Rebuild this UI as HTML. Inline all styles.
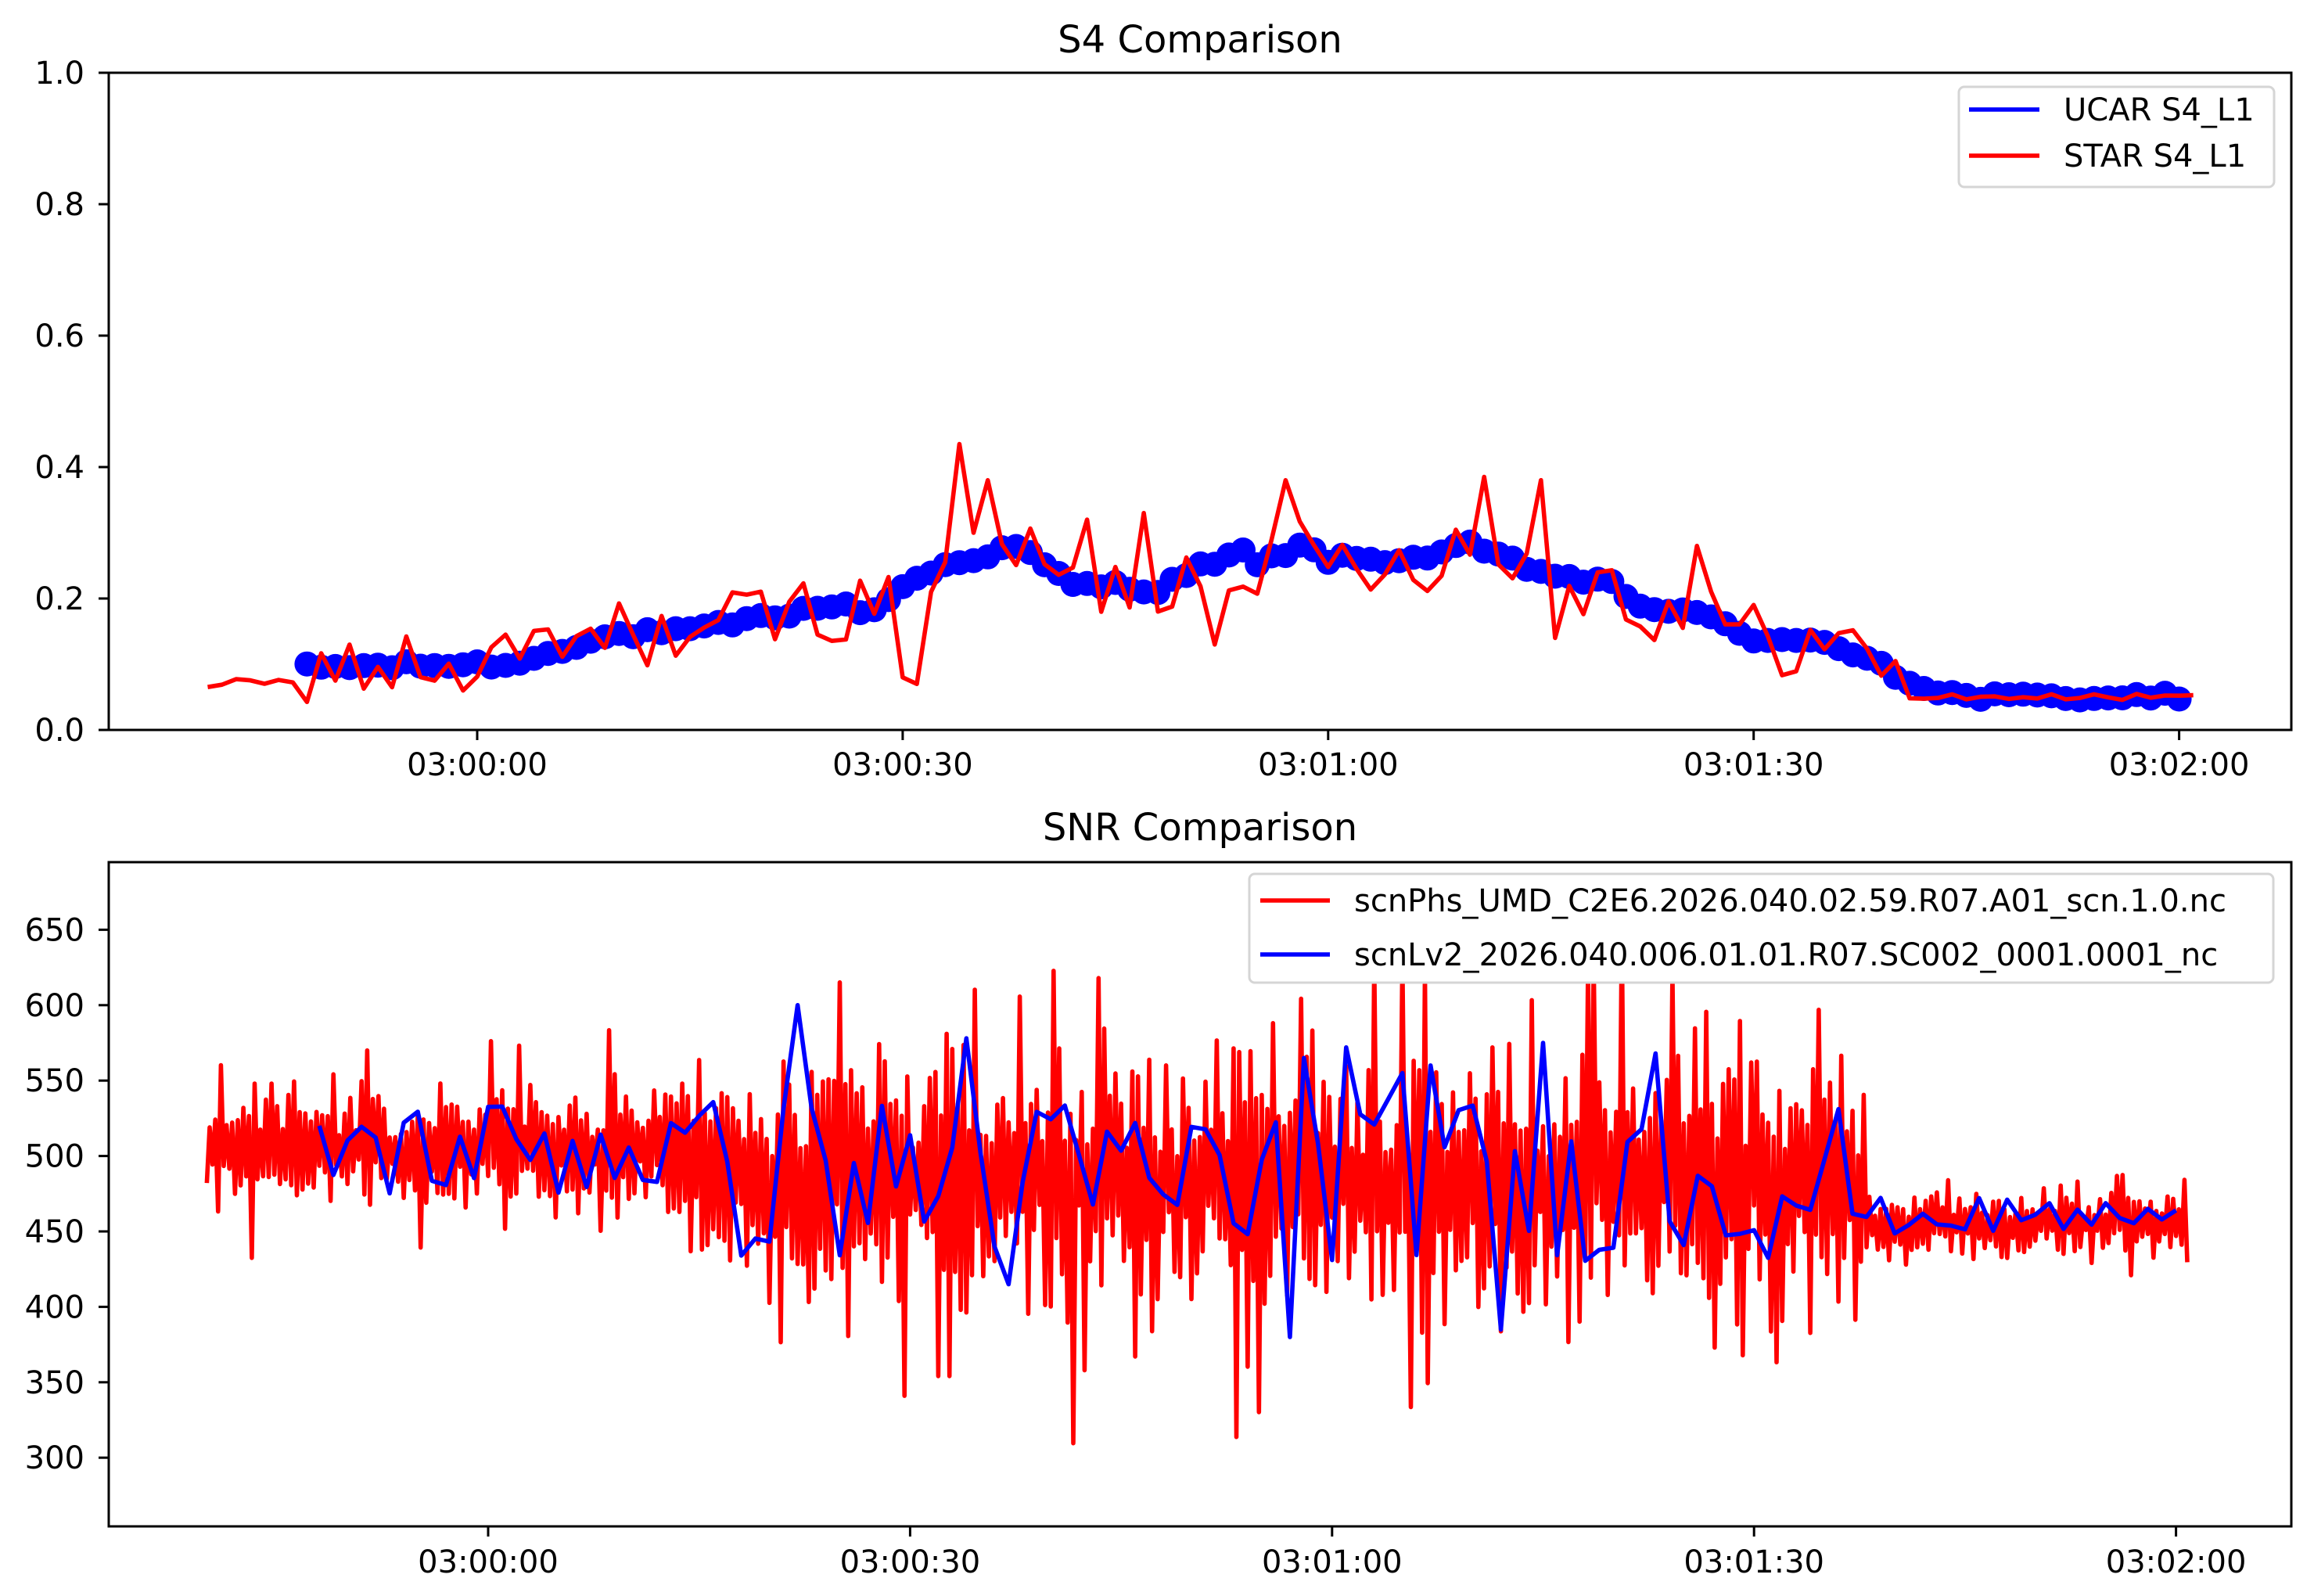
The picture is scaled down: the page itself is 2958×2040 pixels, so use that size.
<!DOCTYPE html>
<html><head><meta charset="utf-8"><style>
html,body{margin:0;padding:0;background:#fff}
svg{display:block}
text{font-family:"DejaVu Sans","Liberation Sans",sans-serif;fill:#000}
</style></head><body>
<svg id="s" width="2958" height="2040" viewBox="0 0 2958 2040" xmlns="http://www.w3.org/2000/svg">
<rect width="2958" height="2040" fill="#fff"/>
<g id="g"></g>
<text x="1534" y="67" font-size="48" text-anchor="middle">S4 Comparison</text>
<text x="1534" y="1074" font-size="48" text-anchor="middle">SNR Comparison</text>
</svg>
<script>
var s=1234567;function R(){s=(s*1103515245+12345)%2147483648;return s/2147483648;}
var g=document.getElementById('g'),h='';
var tx=function(t){return 610+t*18.13},ty=function(v){return 933-v*840};
h+='<defs><clipPath id="c1"><rect x="139" y="93" width="2790" height="840"/></clipPath><clipPath id="c2"><rect x="139" y="1102" width="2790" height="849"/></clipPath></defs>';
var kp=[[-12,.095],[0,.10],[3,.10],[5,.12],[10,.145],[15,.15],[20,.17],[25,.19],[28,.18],[30,.22],[33,.25],[38,.28],[40,.25],[42,.22],[46,.22],[48,.21],[50,.24],[54,.27],[55,.25],[58,.28],[60,.26],[63,.26],[66,.26],[70,.28],[75,.24],[80,.22],[82,.19],[87,.17],[90,.14],[95,.13],[99,.105],[100,.08],[103,.06],[105,.05],[120,.05]];
function B(t){for(var i=1;i<kp.length;i++){if(t<=kp[i][0]){var a=kp[i-1],b=kp[i];return a[1]+(b[1]-a[1])*(t-a[0])/(b[0]-a[0]);}}return .05;}
var dots='';for(var t=-12;t<=120;t+=1){dots+='<circle cx="'+tx(t).toFixed(1)+'" cy="'+ty(B(t)+(R()-.5)*.012).toFixed(1)+'" r="16" fill="#0000ff"/>';}
var sp={'30':.08,'31':.07,'34':.435,'35':.30,'36':.38,'43':.32,'47':.33,'52':.13,'57':.38,'71':.385,'75':.38,'76':.14,'86':.28,'-1':.06,'2':.145};
var rp=[];for(var t=-19;t<=121;t++){var v;if(t<-12)v=.07+(R()-.5)*.015;else if(t>100)v=.05+(R()-.5)*.01;else v=B(t)+(R()-.5)*.11;if(sp[String(t)]!==undefined)v=sp[String(t)];rp.push(tx(t).toFixed(1)+','+ty(v).toFixed(1));}
h+='<g clip-path="url(#c1)">'+dots+'<polyline points="'+rp.join(' ')+'" fill="none" stroke="#ff0000" stroke-width="5.6" stroke-linejoin="round"/></g>';
h+='<rect x="139" y="93" width="2790" height="840" fill="none" stroke="#000" stroke-width="3"/>';
var yl=['0.0','0.2','0.4','0.6','0.8','1.0'];
for(var i=0;i<6;i++){var y=ty(i*.2);h+='<line x1="126" x2="139" y1="'+y+'" y2="'+y+'" stroke="#000" stroke-width="3"/><text x="108" y="'+(y+14)+'" font-size="40" text-anchor="end">'+yl[i]+'</text>';}
var xl=['03:00:00','03:00:30','03:01:00','03:01:30','03:02:00'];
for(var i=0;i<5;i++){var x=tx(i*30);h+='<line x1="'+x+'" x2="'+x+'" y1="933" y2="946" stroke="#000" stroke-width="3"/><text x="'+x+'" y="991" font-size="40" text-anchor="middle">'+xl[i]+'</text>';}
h+='<rect x="2504" y="111" width="403" height="128" rx="7" fill="#fff" stroke="#d5d5d5" stroke-width="3"/>';
h+='<line x1="2517" x2="2607" y1="140" y2="140" stroke="#0000ff" stroke-width="5.6"/><text x="2638" y="154" font-size="40">UCAR S4_L1</text>';
h+='<line x1="2517" x2="2607" y1="199" y2="199" stroke="#ff0000" stroke-width="5.6"/><text x="2638" y="213" font-size="40">STAR S4_L1</text>';
var bx=function(t){return 624+t*17.98},by=function(v){return 1188.4+(650-v)*1.928};
function M(t){if(t<15)return 505;if(t<98)return 485;return 455;}
function A(t){if(t<15)return 34;if(t<20)return 50;if(t<98)return 72;return 18;}
var rr=[],sgn=1;for(var t=-20;t<=121;t+=0.2){sgn=-sgn;var a=A(t);var v=M(t)+sgn*a*(0.2+0.8*R())*(1+1.6*Math.pow(R(),4));rr.push(bx(t).toFixed(1)+','+by(v).toFixed(1));}
var bl=[];var bs={'22':600,'34':578,'37':415,'57':380,'58':565,'61':572,'65':555,'67':560,'72':385,'75':575,'83':568,'-12':520,'36':440};
for(var t=-12;t<=120;t++){var v;if(t>98)v=460+(R()-.5)*25;else v=M(t)+(R()-.5)*(t<15?70:110);if(bs[String(t)]!==undefined)v=bs[String(t)];bl.push(bx(t).toFixed(1)+','+by(v).toFixed(1));}
h+='<g clip-path="url(#c2)"><polyline points="'+rr.join(' ')+'" fill="none" stroke="#ff0000" stroke-width="5.6" stroke-linejoin="round"/><polyline points="'+bl.join(' ')+'" fill="none" stroke="#0000ff" stroke-width="5.6" stroke-linejoin="round"/></g>';
h+='<rect x="139" y="1102" width="2790" height="849" fill="none" stroke="#000" stroke-width="3"/>';
for(var v=300;v<=650;v+=50){var y=by(v);h+='<line x1="126" x2="139" y1="'+y+'" y2="'+y+'" stroke="#000" stroke-width="3"/><text x="108" y="'+(y+14)+'" font-size="40" text-anchor="end">'+v+'</text>';}
for(var i=0;i<5;i++){var x=bx(i*30);h+='<line x1="'+x+'" x2="'+x+'" y1="1951" y2="1964" stroke="#000" stroke-width="3"/><text x="'+x+'" y="2010" font-size="40" text-anchor="middle">'+xl[i]+'</text>';}
h+='<rect x="1597" y="1117" width="1309" height="139" rx="7" fill="#fff" stroke="#d5d5d5" stroke-width="3"/>';
h+='<line x1="1611" x2="1700" y1="1151" y2="1151" stroke="#ff0000" stroke-width="5.6"/><text x="1731" y="1165" font-size="40">scnPhs_UMD_C2E6.2026.040.02.59.R07.A01_scn.1.0.nc</text>';
h+='<line x1="1611" x2="1700" y1="1220" y2="1220" stroke="#0000ff" stroke-width="5.6"/><text x="1731" y="1234" font-size="40">scnLv2_2026.040.006.01.01.R07.SC002_0001.0001_nc</text>';
g.innerHTML=h;
</script>
</body></html>
